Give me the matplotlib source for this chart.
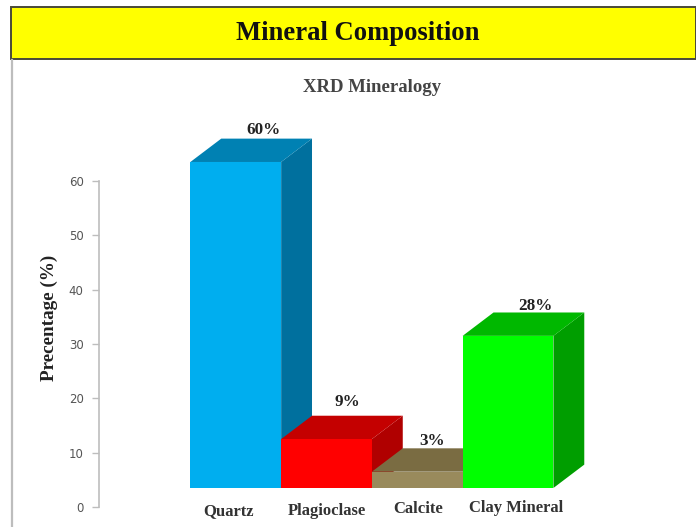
import matplotlib
matplotlib.use("Agg")
import matplotlib.pyplot as plt
from matplotlib.patches import Polygon, Rectangle
from matplotlib.transforms import ScaledTranslation

categories = ["Quartz", "Plagioclase", "Calcite", "Clay Mineral"]
values = [60, 9, 3, 28]
value_labels = ["60%", "9%", "3%", "28%"]
yticks = [0, 10, 20, 30, 40, 50, 60]

front_colors = ["#00AEEF", "#FF0000", "#998A5C", "#00FF00"]
top_colors = ["#0081B3", "#C40000", "#7A6C42", "#00B800"]
side_colors = ["#00709E", "#B00000", "#6B5E38", "#009E00"]

W, H = 696, 527
SERIF = ["Liberation Serif", "DejaVu Serif"]
fig = plt.figure(figsize=(W / 100, H / 100), dpi=100, facecolor="white")

def fx(p): return p / W
def fy(p): return 1 - p / H

# page frame
fig.add_artist(Rectangle((fx(11), fy(59)), fx(W - 11), 52 / H, transform=fig.transFigure,
                         facecolor="#FFFF00", edgecolor="#4A4A38", linewidth=1.4))
fig.add_artist(plt.Line2D([fx(11.5)] * 2, [fy(60), 0], transform=fig.transFigure,
                          color="#BDBDBD", linewidth=1.6))
fig.text(fx(358), fy(34), "Mineral Composition", family=SERIF, weight="bold", fontsize=19.2,
         ha="center", va="center", color="#111111")
fig.text(fx(372), fy(87), "XRD Mineralogy", family=SERIF, weight="bold", fontsize=13.5,
         ha="center", va="center", color="#444444")

# axes: left edge on the axis line, y 0..60 over the tick span
ax = fig.add_axes([fx(99), fy(507), (584 - 99) / W, (507 - 181) / H])
ax.set_ylim(0, 60)
ax.set_xlim(-1.507, 3.837)
ax.patch.set_alpha(0)
for s in ["top", "right", "bottom"]:
    ax.spines[s].set_visible(False)
ax.spines["left"].set_color("#BDBDBD")
ax.spines["left"].set_linewidth(1.2)
ax.set_yticks(yticks)
ax.tick_params(axis="y", direction="out", length=5, width=1, color="#BDBDBD",
               labelcolor="#555555", labelsize=8.5, pad=6)
ax.set_ylabel("Precentage (%)", family=SERIF, weight="bold", fontsize=13.8, color="#222222",
              va="center")
ax.yaxis.set_label_coords((49 - 99) / (584 - 99), (507 - 318) / (507 - 181))

# pseudo-3D bars
BASE = 3.5       # front face rises from here
DX, DY = 0.34, 4.3   # depth offset
for i, v in enumerate(values):
    z = 2 + i
    x0, x1 = i - 0.5, i + 0.5
    top = BASE + v
    ax.bar(i, v, width=1.0, bottom=BASE, color=front_colors[i], zorder=z + 0.3, clip_on=False)
    ax.add_patch(Polygon([(x1, BASE), (x1 + DX, BASE + DY), (x1 + DX, top + DY), (x1, top)],
                         facecolor=side_colors[i], edgecolor="none", zorder=z, clip_on=False))
    ax.add_patch(Polygon([(x0, top), (x0 + DX, top + DY), (x1 + DX, top + DY), (x1, top)],
                         facecolor=top_colors[i], edgecolor="none", zorder=z + 0.1, clip_on=False))

# value labels
label_shift = [(20.3, 6.2), (15, 9.8), (10.5, 5.2), (20, 4.6)]
for i, v in enumerate(values):
    ax.annotate(value_labels[i], (i, BASE + v + DY), xytext=label_shift[i],
                textcoords="offset points", family=SERIF, weight="bold", fontsize=12.3,
                ha="center", va="center", color="#222222", zorder=10, annotation_clip=False)

# category labels
ax.set_xticks(range(len(categories)))
ax.set_xticklabels(categories, family=SERIF, weight="bold", fontsize=12, color="#333333")
ax.tick_params(axis="x", length=0, pad=0)
cat_shift = [(-5.5, 2.9), (0.2, 2.9), (0.8, 4.4), (5.7, 5.2)]
for lab, (dx, dy) in zip(ax.get_xticklabels(), cat_shift):
    lab.set_transform(lab.get_transform() + ScaledTranslation(dx / 72, dy / 72, fig.dpi_scale_trans))

fig.savefig("out.png", dpi=100)
